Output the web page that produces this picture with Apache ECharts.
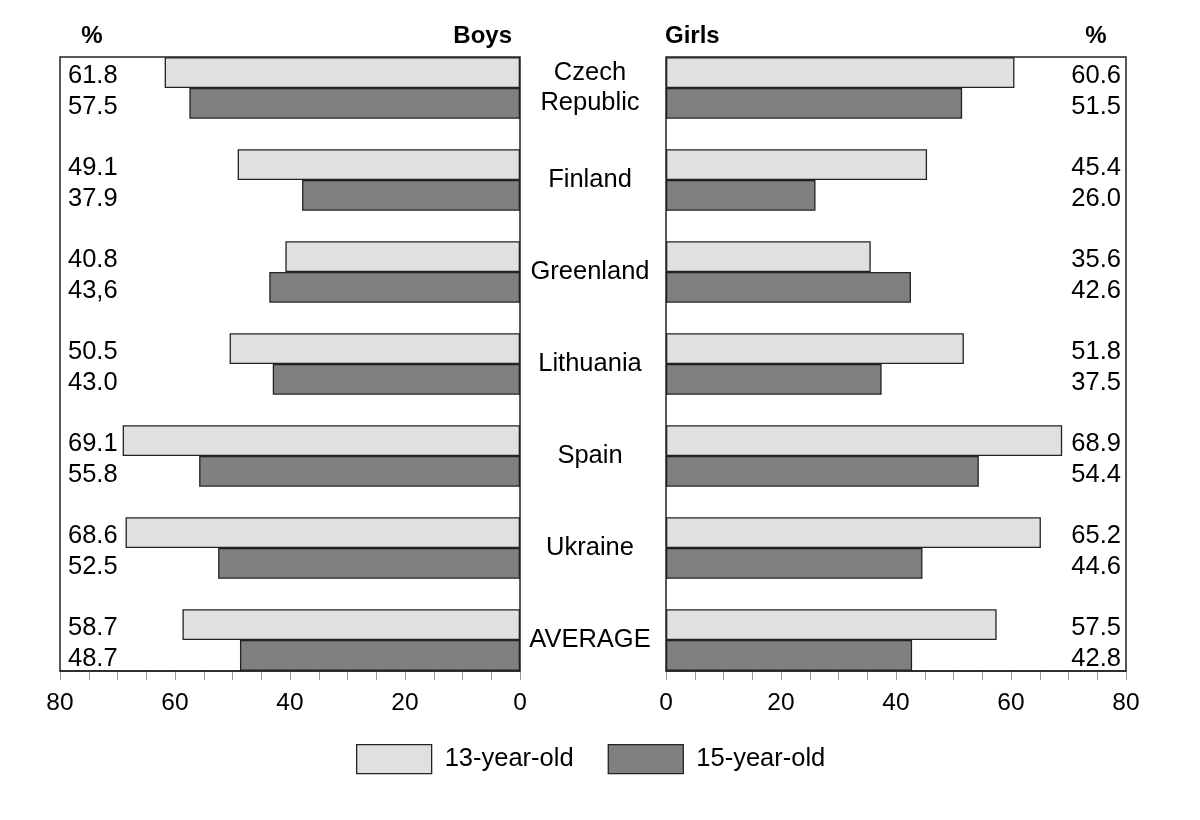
<!DOCTYPE html>
<html>
<head>
<meta charset="utf-8">
<script src="https://cdn.jsdelivr.net/npm/echarts@6/dist/echarts.min.js"></script>
<style>
html,body{margin:0;padding:0;background:#fff;}
#chart{width:1200px;height:820px;}
</style>
</head>
<body>
<div id="chart"></div>
<script>
const countries = ['Czech\nRepublic', 'Finland', 'Greenland', 'Lithuania', 'Spain', 'Ukraine', 'AVERAGE'];
const boys13 = [61.8, 49.1, 40.8, 50.5, 69.1, 68.6, 58.7];
const boys15 = [57.5, 37.9, 43.6, 43.0, 55.8, 52.5, 48.7];
const girls13 = [60.6, 45.4, 35.6, 51.8, 68.9, 65.2, 57.5];
const girls15 = [51.5, 26.0, 42.6, 37.5, 54.4, 44.6, 42.8];
// value labels as printed in the source (one uses a decimal comma)
const boys13Text = ['61.8', '49.1', '40.8', '50.5', '69.1', '68.6', '58.7'];
const boys15Text = ['57.5', '37.9', '43,6', '43.0', '55.8', '52.5', '48.7'];
const girls13Text = ['60.6', '45.4', '35.6', '51.8', '68.9', '65.2', '57.5'];
const girls15Text = ['51.5', '26.0', '42.6', '37.5', '54.4', '44.6', '42.8'];
const xTicks = [0, 20, 40, 60, 80];
const seriesNames = ['13-year-old', '15-year-old'];

const FONT = 'Liberation Sans, Arial, sans-serif';
const FS = 25.5;
const LIGHT = '#e0e0e0';
const DARK = '#808080';
const EDGE = '#222';
const INK = '#000';

const chart = echarts.init(document.getElementById('chart'));

function valueAxis(gridIndex, inverse) {
  return {
    type: 'value', gridIndex: gridIndex, position: 'bottom', offset: -15,
    min: xTicks[0], max: xTicks[xTicks.length - 1], interval: xTicks[1] - xTicks[0],
    inverse: inverse,
    axisLine: { show: true, lineStyle: { color: EDGE, width: 1.5 } },
    axisTick: { show: true, length: 9, lineStyle: { color: '#999', width: 1 } },
    minorTick: { show: true, splitNumber: 4, length: 9, lineStyle: { color: '#999', width: 1 } },
    axisLabel: { margin: 20, fontSize: 24.5, fontFamily: FONT, color: INK },
    splitLine: { show: false }, minorSplitLine: { show: false }
  };
}

function valueLabelAxis(gridIndex, position, a, b, margin) {
  return {
    type: 'category', gridIndex: gridIndex, position: position, inverse: true,
    data: countries,
    axisLine: { show: false }, axisTick: { show: false },
    axisLabel: {
      inside: true, margin: margin, fontSize: FS, fontFamily: FONT, color: INK,
      formatter: function (v, i) { return '{s| }\n{v|' + a[i] + '}\n{v|' + b[i] + '}'; },
      rich: {
        s: { fontSize: 4, lineHeight: 7 },
        v: { fontSize: FS, fontFamily: FONT, color: INK, lineHeight: 31.5 }
      }
    }
  };
}

const barBase = { type: 'bar', barGap: '0%', barCategoryGap: '33.3%',
  itemStyle: { borderColor: EDGE, borderWidth: 1.3 }, emphasis: { disabled: true } };

chart.setOption({
  animation: false,
  backgroundColor: '#fff',
  textStyle: { fontFamily: FONT },
  grid: [
    { left: 60, right: 680, top: 42, bottom: 134 },
    { left: 666, right: 74, top: 42, bottom: 134 }
  ],
  xAxis: [ valueAxis(0, true), valueAxis(1, false) ],
  yAxis: [
    valueLabelAxis(0, 'left', boys13Text, boys15Text, 8),
    {
      type: 'category', gridIndex: 0, position: 'right', inverse: true, data: countries,
      axisLine: { show: false }, axisTick: { show: false },
      axisLabel: { margin: 70, align: 'center', fontSize: FS, fontFamily: FONT, color: INK, lineHeight: 30 }
    },
    valueLabelAxis(1, 'right', girls13Text, girls15Text, 5)
  ],
  legend: {
    data: seriesNames, left: 356, top: 744, padding: 0,
    itemWidth: 75, itemHeight: 29, itemGap: 34, icon: 'rect',
    itemStyle: { borderColor: EDGE, borderWidth: 1.3 },
    textStyle: { fontSize: FS, fontFamily: FONT, color: INK, padding: [0, 0, 0, 8] },
    selectedMode: false
  },
  series: [
    Object.assign({}, barBase, { name: seriesNames[0], xAxisIndex: 0, yAxisIndex: 0, data: boys13, itemStyle: Object.assign({}, barBase.itemStyle, { color: LIGHT }) }),
    Object.assign({}, barBase, { name: seriesNames[1], xAxisIndex: 0, yAxisIndex: 0, data: boys15, itemStyle: Object.assign({}, barBase.itemStyle, { color: DARK }) }),
    Object.assign({}, barBase, { name: seriesNames[0], xAxisIndex: 1, yAxisIndex: 2, data: girls13, itemStyle: Object.assign({}, barBase.itemStyle, { color: LIGHT }) }),
    Object.assign({}, barBase, { name: seriesNames[1], xAxisIndex: 1, yAxisIndex: 2, data: girls15, itemStyle: Object.assign({}, barBase.itemStyle, { color: DARK }) })
  ],
  graphic: [
    { type: 'rect', shape: { x: 60, y: 57, width: 460, height: 614 }, z: 100,
      style: { fill: 'none', stroke: EDGE, lineWidth: 1.5 }, silent: true },
    { type: 'rect', shape: { x: 666, y: 57, width: 460, height: 614 }, z: 100,
      style: { fill: 'none', stroke: EDGE, lineWidth: 1.5 }, silent: true },
    { type: 'text', x: 92, y: 36, style: { text: '%', font: 'bold 24px ' + FONT, fill: INK, align: 'center', verticalAlign: 'middle' } },
    { type: 'text', x: 512, y: 36, style: { text: 'Boys', font: 'bold 24px ' + FONT, fill: INK, align: 'right', verticalAlign: 'middle' } },
    { type: 'text', x: 665, y: 36, style: { text: 'Girls', font: 'bold 24px ' + FONT, fill: INK, align: 'left', verticalAlign: 'middle' } },
    { type: 'text', x: 1096, y: 36, style: { text: '%', font: 'bold 24px ' + FONT, fill: INK, align: 'center', verticalAlign: 'middle' } }
  ]
});
</script>
</body>
</html>
